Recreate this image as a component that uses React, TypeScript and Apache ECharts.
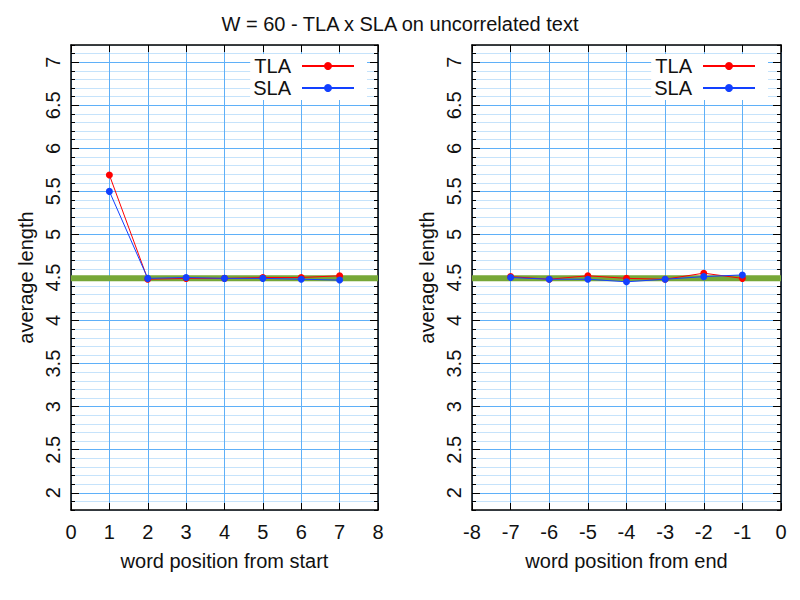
import { useEffect, useRef } from "react";
import * as echarts from "echarts";

const TITLE = "W = 60 - TLA x SLA on uncorrelated text";

// left panel: positions counted from the start of the word
const START_X = [1, 2, 3, 4, 5, 6, 7];
const START_TLA = [5.69, 4.48, 4.49, 4.49, 4.5, 4.5, 4.52];
const START_SLA = [5.5, 4.49, 4.5, 4.49, 4.49, 4.48, 4.47];

// right panel: positions counted from the end of the word
const END_X = [-7, -6, -5, -4, -3, -2, -1];
const END_TLA = [4.51, 4.48, 4.52, 4.49, 4.48, 4.55, 4.49];
const END_SLA = [4.5, 4.48, 4.48, 4.45, 4.48, 4.51, 4.53];

const BASELINE = 4.49;

const Y_TICKS = [2, 2.5, 3, 3.5, 4, 4.5, 5, 5.5, 6, 6.5, 7];
const Y_MIN = 1.8;
const Y_MAX = 7.2;

const FONT = "'Liberation Sans', Arial, sans-serif";
const FS = 20;
const MAJOR = "#5fb0f8";
const MINOR = "#c6e3fb";
const RED = "#ff0000";
const BLUE = "#1240ff";
const GREEN = "#76a737";

const pair = (xs: number[], ys: number[]) => xs.map((x, i) => [x, ys[i]]);

const App = () => {
  const ref = useRef<HTMLDivElement | null>(null);

  useEffect(() => {
    if (!ref.current) return;
    const chart = echarts.init(ref.current, null, { renderer: "svg" });

    const panels = [
      { left: 71, width: 307, min: 0, max: 8, name: "word position from start", legendRight: 433 },
      { left: 472, width: 309, min: -8, max: 0, name: "word position from end", legendRight: 32 },
    ];

    const grid = panels.map((p) => ({ left: p.left, width: p.width, top: 45, height: 465 }));

    const xAxis: any[] = [];
    const yAxis: any[] = [];
    panels.forEach((p, g) => {
      xAxis.push({
        type: "value",
        gridIndex: g,
        position: "bottom",
        min: p.min,
        max: p.max,
        interval: 1,
        name: p.name,
        nameLocation: "middle",
        nameGap: 41,
        nameTextStyle: { fontSize: FS, color: "#111", fontFamily: FONT },
        axisLine: { show: true, onZero: false, lineStyle: { color: "#000", width: 1.5 } },
        axisTick: { show: true, inside: true, length: 7, lineStyle: { color: "#000" } },
        axisLabel: { fontSize: FS, color: "#111", fontFamily: FONT, margin: 12 },
        splitLine: { show: true, lineStyle: { color: MAJOR, width: 1 } },
      });
      xAxis.push({
        type: "value",
        gridIndex: g,
        position: "top",
        min: p.min,
        max: p.max,
        interval: 1,
        axisLine: { show: true, onZero: false, lineStyle: { color: "#000", width: 1.5 } },
        axisTick: { show: true, inside: true, length: 7, lineStyle: { color: "#000" } },
        axisLabel: { show: false },
        splitLine: { show: false },
      });
      ["left", "right"].forEach((side) => {
        yAxis.push({
          type: "value",
          gridIndex: g,
          position: side,
          min: Y_MIN,
          max: Y_MAX,
          interval: 0.1,
          name: side === "left" ? "average length" : "",
          nameLocation: "middle",
          nameGap: 35,
          nameTextStyle: { fontSize: FS, color: "#111", fontFamily: FONT },
          axisLine: { show: true, onZero: false, lineStyle: { color: "#000", width: 1.5 } },
          axisTick: { show: true, inside: true, length: 4, lineStyle: { color: "#000" } },
          axisLabel: {
            show: side === "left",
            rotate: 90,
            margin: 8,
            fontSize: FS,
            color: "#111",
            fontFamily: FONT,
            formatter: (v: number) => {
              const r = Math.round(v * 10) / 10;
              return Y_TICKS.includes(r) ? String(r) : "";
            },
          },
          splitLine: {
            show: side === "left",
            lineStyle: { color: [MINOR, MINOR, MAJOR, MINOR, MINOR], width: 1 },
          },
        });
        yAxis.push({
          type: "value",
          gridIndex: g,
          position: side,
          min: Y_MIN,
          max: Y_MAX,
          axisLine: { show: false, onZero: false },
          axisTick: {
            show: true,
            inside: true,
            length: 8,
            customValues: Y_TICKS,
            lineStyle: { color: "#000" },
          },
          axisLabel: { show: false },
          splitLine: { show: false },
        });
      });
    });

    const sets = [
      { tla: pair(START_X, START_TLA), sla: pair(START_X, START_SLA) },
      { tla: pair(END_X, END_TLA), sla: pair(END_X, END_SLA) },
    ];

    const series: any[] = [];
    sets.forEach((s, g) => {
      const axes = { xAxisIndex: g * 2, yAxisIndex: g * 4 };
      const p = panels[g];
      series.push({
        name: "baseline",
        type: "line",
        ...axes,
        data: [
          [p.min, BASELINE],
          [p.max, BASELINE],
        ],
        z: 1,
        silent: true,
        symbol: "none",
        lineStyle: { color: GREEN, width: 6 },
      });
      series.push({
        name: "TLA",
        type: "line",
        ...axes,
        data: s.tla,
        z: 3,
        symbol: "circle",
        symbolSize: 7,
        color: RED,
        lineStyle: { color: RED, width: 1 },
        itemStyle: { color: RED },
      });
      series.push({
        name: "SLA",
        type: "line",
        ...axes,
        data: s.sla,
        z: 4,
        symbol: "circle",
        symbolSize: 7,
        color: BLUE,
        lineStyle: { color: BLUE, width: 1 },
        itemStyle: { color: BLUE },
      });
    });

    const legend = panels.map((p) => ({
      data: ["TLA", "SLA"],
      orient: "vertical",
      right: p.legendRight,
      top: 54,
      align: "right",
      itemWidth: 52,
      itemHeight: 10,
      itemGap: 2,
      padding: [2, 12, 2, 3],
      backgroundColor: "#fff",
      selectedMode: false,
      textStyle: { fontSize: FS, color: "#111", fontFamily: FONT, padding: [0, 6, 0, 0] },
    }));

    chart.setOption({
      animation: false,
      backgroundColor: "#fff",
      textStyle: { fontFamily: FONT },
      title: {
        text: TITLE,
        left: "center",
        top: 9,
        textStyle: { fontSize: FS, fontWeight: "normal", color: "#111", fontFamily: FONT },
      },
      legend,
      grid,
      xAxis,
      yAxis,
      series,
    });

    return () => chart.dispose();
  }, []);

  return (
    <div
      ref={ref}
      style={{ position: "fixed", left: 0, top: 0, width: 800, height: 600 }}
    />
  );
};

export default App;
